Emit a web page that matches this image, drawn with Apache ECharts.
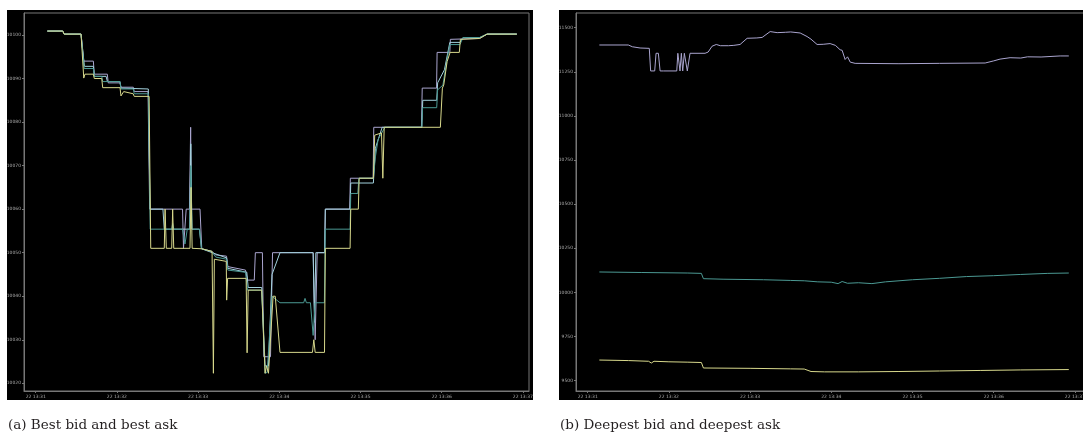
<!DOCTYPE html>
<html>
<head>
<meta charset="utf-8">
<script src="https://cdn.jsdelivr.net/npm/echarts@6/dist/echarts.min.js"></script>
<style>
html,body{margin:0;padding:0;background:#fff;}
#c{width:1083px;height:439px;}
</style>
</head>
<body>
<div id="c"></div>
<script>
// x values: seconds after 22 13:31:00
const xTickLabels = ['22 13:31','22 13:32','22 13:33','22 13:34','22 13:35','22 13:36','22 13:37'];
const captions = ['(a) Best bid and best ask', '(b) Deepest bid and deepest ask'];

// (a) best ask / best bid lines
const bestAskA = [[8.6,10100.9],[20,10100.9],[21,10100.2],[33.5,10100.2],[35.5,10094.0],[42.6,10094.0],[43.3,10091.0],[52.9,10091.0],[53.6,10089.0],[62.3,10089.0],[63,10088.0],[72.1,10088.0],[72.8,10087.0],[83.0,10087.0],[84.2,10060.0],[108.5,10060.0],[109.2,10051.0],[110.5,10051.0],[111.2,10060.0],[113.6,10060.0],[114.5,10078.8],[115.0,10060.0],[121.4,10060.0],[122.7,10050.9],[130,10050.3],[133,10049.5],[141,10049.2],[142,10046.8],[155,10046.0],[156.5,10043.7],[161.5,10043.7],[162.3,10050.0],[167.5,10050.0],[168.5,10026.1],[173.5,10026.1],[175.0,10050.0],[205,10050.0],[206.5,10030.0],[208,10050.0],[213.5,10050.0],[214,10060.0],[232,10060.0],[232.5,10067.1],[249.3,10067.1],[249.8,10078.8],[285,10078.8],[285.6,10087.8],[296.2,10087.8],[296.6,10096.0],[306,10096.0],[306.4,10099.0],[328,10099.2],[333.5,10100.2],[355.5,10100.2]];
const bestAskB = [[8.6,10100.9],[20,10100.9],[21,10100.2],[33.5,10100.2],[36,10092.8],[42.6,10092.8],[43.3,10090.5],[52,10090.5],[53,10089.3],[62.3,10089.3],[63,10087.8],[83.2,10087.6],[84.5,10060],[94,10060],[95,10055.4],[113.8,10055.4],[114.6,10075],[115.4,10055.4],[121,10055.4],[122.5,10050.9],[141,10048.8],[142,10046.4],[156,10045.5],[157,10042],[167,10042],[169.5,10024],[172,10024],[174.6,10045],[180.5,10050],[205,10050],[206,10034],[207,10050],[213.5,10050],[214,10060],[232.3,10060],[232.8,10066],[249.5,10066],[251,10074],[256,10078.8],[285.3,10078.8],[286,10085],[296.3,10085],[297,10089],[302,10092],[306,10098.3],[313.5,10098.3],[315.7,10099.4],[328,10099.4],[333.5,10100.2],[355.5,10100.2]];
const bestBidA = [[8.6,10100.9],[20,10100.9],[21,10100.2],[33.5,10100.2],[35.8,10092.3],[42.6,10092.3],[43.3,10090.5],[48.8,10090.5],[49.5,10089.3],[62.3,10089.3],[63,10087.6],[72.1,10087.6],[72.8,10086.5],[83.3,10086.5],[84.6,10055.4],[100.5,10055.4],[101.2,10056.7],[102,10055.4],[108.5,10055.4],[110.3,10052],[112,10055.4],[113.8,10055.4],[114.6,10070],[115.5,10055.4],[121,10055.4],[122.5,10050.9],[130,10050.3],[133,10049],[141,10048.5],[142,10046],[155,10045.5],[156.5,10041.4],[167,10041.4],[169.5,10022.3],[171,10022.5],[174.6,10040],[180.5,10038.5],[198,10038.5],[199,10039.5],[200,10038.5],[203,10038.5],[205,10031],[206.5,10038.5],[213.3,10038.5],[214,10055.4],[232.3,10055.4],[232.8,10063.6],[238,10063.6],[238.8,10067.1],[249.5,10067.1],[251,10072],[253,10076],[258,10078.8],[285.3,10078.8],[285.8,10083.3],[296.3,10083.3],[297,10087.4],[300.9,10088.5],[304,10094.5],[306,10097.8],[313.5,10097.8],[315.7,10099.4],[328,10099.4],[333.5,10100.2],[355.5,10100.2]];
const bestBidB = [[8.6,10100.9],[20,10100.9],[21,10100.2],[33.5,10100.2],[35.5,10090.1],[36.4,10091.0],[42.6,10091.0],[43.3,10090.0],[48.8,10090.0],[49.5,10087.9],[62.3,10087.9],[63,10086.0],[63.8,10085.9],[65,10087.0],[72,10086.5],[72.8,10085.9],[83.8,10085.9],[85,10051.0],[95,10051.0],[95.6,10060.0],[96.5,10051.0],[100.5,10051.0],[101.2,10060.0],[102,10051.0],[114,10051.0],[114.8,10065],[115.6,10051.0],[122.7,10050.9],[130.3,10050.3],[131.3,10022.3],[132,10048.5],[140.8,10048],[141.1,10039.1],[141.8,10044.1],[155.5,10044.1],[156.2,10027.0],[157,10041.4],[167,10041.4],[169.5,10022.3],[170.5,10024],[172,10022.3],[175.4,10040.0],[177,10040],[180.5,10027.1],[204.5,10027.1],[205.5,10030],[206.5,10027.1],[213.4,10027.1],[214,10051.0],[232.3,10051.0],[232.8,10060],[238.4,10060],[239,10067.1],[249.5,10067.1],[250.5,10077],[255.5,10077.5],[256.5,10067.1],[257.5,10078.8],[299,10078.8],[300.5,10087.8],[301.5,10088.5],[304,10093.9],[306.2,10096.0],[313,10096],[313.8,10099.0],[328,10099.2],[333.5,10100.2],[355.5,10100.2]];

// (b) deepest ask / deepest bid lines
const deepAsk = [[8.6,11402],[30,11402],[33,11392],[38.7,11385],[45.5,11383],[46.5,11255],[49.5,11255],[50.5,11355],[52.2,11355],[53.5,11255],[55.9,11255],[65.8,11255],[66.6,11355],[67.4,11355],[68.2,11255],[69.2,11355],[70.2,11255],[71.4,11355],[72.6,11355],[73.6,11255],[74.6,11255],[75.6,11355],[86.7,11355],[89,11362],[91.9,11395],[95,11405],[98,11398],[104,11398],[108,11400],[112.6,11405],[117.8,11440],[125,11442],[128.9,11445],[134.8,11478],[140,11472],[146,11474],[150,11476],[157,11470],[162.1,11450],[165,11435],[169.5,11405],[174,11406],[179.1,11410],[183,11400],[186.5,11375],[188,11372],[190.2,11320],[192,11335],[194,11305],[197.6,11298],[230,11296],[260,11298],[293.7,11300],[300,11312],[304.7,11322],[312.1,11330],[320,11328],[325,11335],[335,11334],[349.1,11340],[355.5,11340]];
const deepMid = [[8.6,10116],[40,10113],[74,10110],[84,10108],[85.5,10078],[100,10075],[130,10072],[150,10068],[160,10066],[170,10060],[180,10058],[185,10050],[188,10062],[192,10052],[200,10055],[210,10050],[220,10060],[240,10072],[260,10080],[280,10090],[300,10095],[320,10102],[340,10108],[355.5,10110]];
const deepBid = [[8.6,9617],[30,9614],[45,9610],[47,9600],[49,9610],[60,9607],[74,9605],[84,9603],[85.5,9572],[120,9570],[150,9567],[160,9566],[165,9552],[175,9550],[200,9550],[230,9552],[260,9555],[290,9558],[320,9561],[355.5,9563]];

const COL = {ask:'#aaa5cf', ask2:'#a3d2de', bid:'#4b9993', bid2:'#d8d98c'};
const PANEL_DX = 552;

const chart = echarts.init(document.getElementById('c'), null, {renderer:'canvas'});

function xAxis(gi, max){
  return {
    type:'value', gridIndex:gi, min:-8.65, max:max, minInterval:60, maxInterval:60,
    axisLine:{show:true, onZero:false, lineStyle:{color:'#777', width:1}},
    axisTick:{show:true, length:2, lineStyle:{color:'#777'}},
    splitLine:{show:false},
    axisLabel:{show:true, showMinLabel:false, showMaxLabel:false, fontSize:4.5, color:'#aaa', margin:3,
      fontFamily:'DejaVu Sans',
      formatter:function(v){const i=Math.round(v/60); return xTickLabels[i] || '';}}
  };
}
function yAxis(gi, min, max, iv){
  return {
    type:'value', gridIndex:gi, min:min, max:max, minInterval:iv, maxInterval:iv, splitNumber:8,
    axisLine:{show:true, onZero:false, lineStyle:{color:'#777', width:1}},
    axisTick:{show:true, length:2, lineStyle:{color:'#777'}},
    splitLine:{show:false},
    axisLabel:{show:true, showMinLabel:false, showMaxLabel:false, fontSize:4.5, color:'#aaa', margin:3,
      fontFamily:'DejaVu Sans', formatter:function(v){return String(Math.round(v));}}
  };
}
function line(data, color, xi, yi){
  return {type:'line', data:data, xAxisIndex:xi, yAxisIndex:yi, showSymbol:false, symbol:'none',
    lineStyle:{color:color, width:1}, itemStyle:{color:color}, animation:false, silent:true};
}

chart.setOption({
  backgroundColor:'#ffffff',
  animation:false,
  graphic:[
    {type:'rect', shape:{x:7, y:10, width:526, height:390}, style:{fill:'#000'}, z:-10, silent:true},
    {type:'rect', shape:{x:7+PANEL_DX, y:10, width:540, height:390}, style:{fill:'#000'}, z:-10, silent:true},
    {type:'text', x:8, y:418, style:{text:captions[0], font:'13.5px "DejaVu Serif"', fill:'#231f20'}, silent:true},
    {type:'text', x:8+PANEL_DX, y:418, style:{text:captions[1], font:'13.5px "DejaVu Serif"', fill:'#231f20'}, silent:true}
  ],
  grid:[
    {left:24, top:13, width:505, height:378, show:true, borderColor:'#777', borderWidth:1, backgroundColor:'transparent', containLabel:false, outerBoundsMode:'none'},
    {left:24+PANEL_DX, top:13, width:515, height:378, show:true, borderColor:'#777', borderWidth:1, backgroundColor:'transparent', containLabel:false, outerBoundsMode:'none'}
  ],
  xAxis:[xAxis(0, 364.5), xAxis(1, 371.9)],
  yAxis:[yAxis(0, 10018.23, 10105.05, 10), yAxis(1, 9441.6, 11583.3, 250)],
  series:[
    line(bestAskA, COL.ask, 0, 0),
    line(bestAskB, COL.ask2, 0, 0),
    line(bestBidA, COL.bid, 0, 0),
    line(bestBidB, COL.bid2, 0, 0),
    line(deepAsk, COL.ask, 1, 1),
    line(deepMid, COL.bid, 1, 1),
    line(deepBid, COL.bid2, 1, 1)
  ]
});
</script>
</body>
</html>
